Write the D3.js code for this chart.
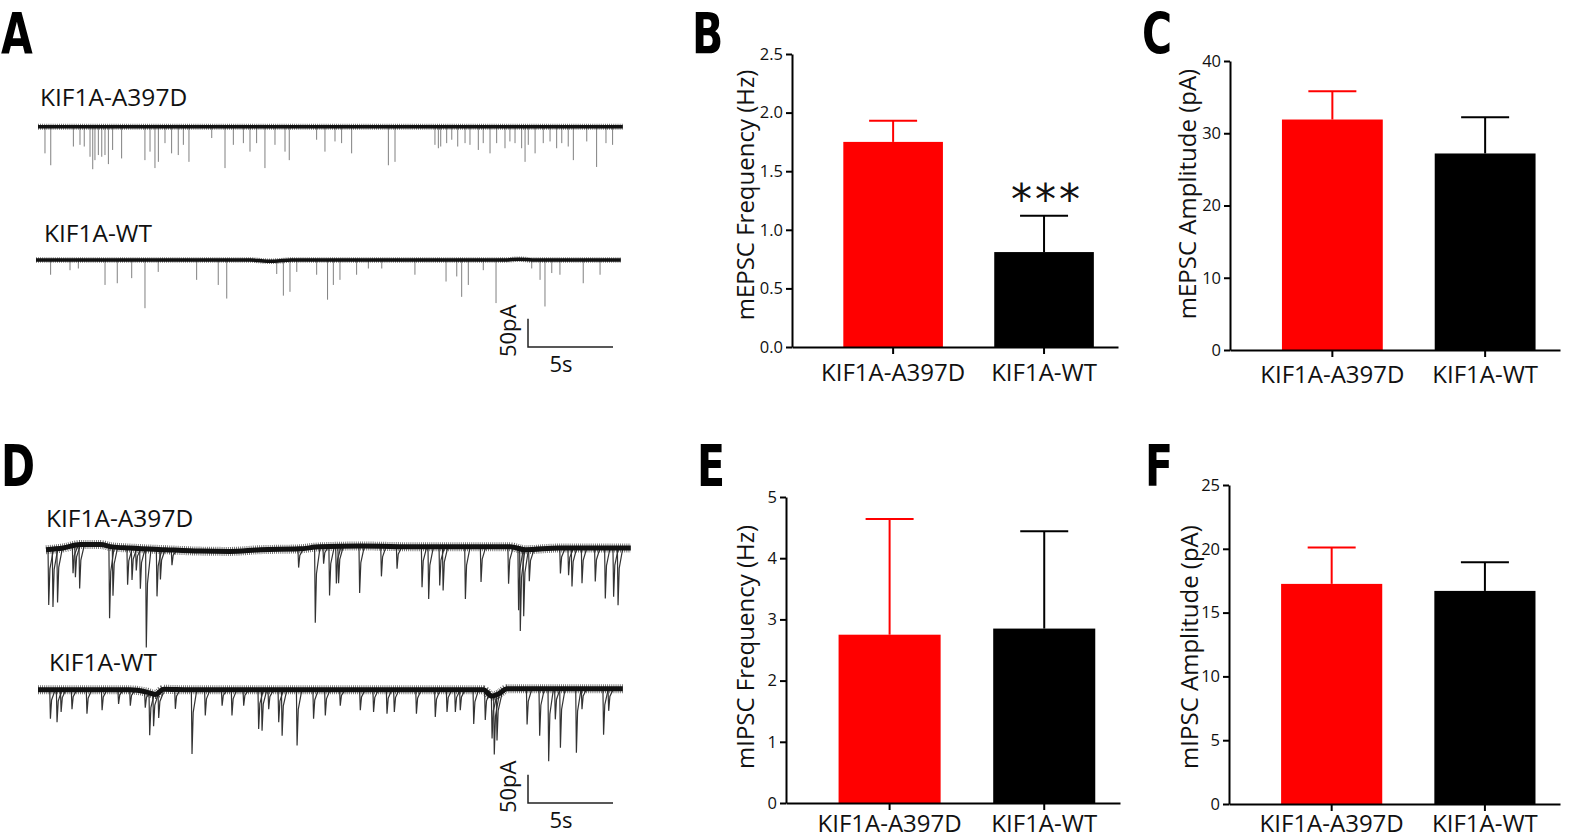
<!DOCTYPE html>
<html lang="en">
<head>
<meta charset="UTF-8">
<title>KIF1A mEPSC / mIPSC</title>
<script src="https://d3js.org/d3.v7.min.js"></script>
<style>
    body { margin: 0; background: #fff; }
    svg { display: block; font-family: "Open Sans", sans-serif; }
    .axis path, .axis line { stroke: #000; stroke-width: 2; }
    .axis text { fill: #111; font-family: "Open Sans", sans-serif; }
    .panel-letter { font-family: "DejaVu Sans", sans-serif; font-weight: 700; font-size: 57px; fill: #000; }
</style>
</head>
<body>
<div id="chart"></div>
<script>
// ---- data ----
const categories = ["KIF1A-A397D", "KIF1A-WT"];

// B: mEPSC frequency (Hz), mean and SEM
const mepscFreq = [1.75, 0.81];
const mepscFreqSem = [0.18, 0.31];
// C: mEPSC amplitude (pA)
const mepscAmp = [31.9, 27.2];
const mepscAmpSem = [3.9, 5.0];
// E: mIPSC frequency (Hz)
const mipscFreq = [2.75, 2.85];
const mipscFreqSem = [1.89, 1.59];
// F: mIPSC amplitude (pA)
const mipscAmp = [17.25, 16.7];
const mipscAmpSem = [2.85, 2.25];

const ticksB = [0, 0.5, 1.0, 1.5, 2.0, 2.5];
const ticksC = [0, 10, 20, 30, 40];
const ticksE = [0, 1, 2, 3, 4, 5];
const ticksF = [0, 5, 10, 15, 20, 25];

// example recordings: events as [time s, amplitude pA]
const traceDuration = 34.4;
const mepscA397D = [[0.41,47],[0.75,68],[2.08,35],[2.47,32],[2.72,35],[3.06,53],[3.22,75],[3.35,59],[3.55,50],
    [3.75,53],[3.94,50],[4.14,66],[4.39,41],[4.92,56],[6.29,59],[6.59,44],[6.88,73],[7.08,62],[7.47,29],
    [7.86,47],[8.25,50],[8.55,32],[8.88,62],[10.22,20],[11.0,73],[11.49,32],[12.08,29],[12.47,44],[12.86,29],
    [13.35,73],[13.94,32],[14.53,44],[14.78,59],[16.39,23],[16.88,44],[17.47,26],[17.86,29],[18.45,47],
    [20.61,68],[21.0,62],[23.35,32],[23.55,38],[23.69,35],[24.04,29],[24.34,23],[24.69,35],[25.12,29],
    [25.41,32],[25.9,41],[26.19,29],[26.59,47],[26.98,29],[27.47,38],[27.76,26],[28.06,29],[28.45,38],
    [28.65,62],[28.84,32],[29.24,47],[29.72,29],[30.12,26],[30.51,38],[30.81,29],[31.19,35],[31.49,59],
    [32.28,26],[32.86,71],[33.41,29],[33.8,32]];
const mepscWT = [[0.86,26],[2.0,18],[2.49,15],[4.06,44],[4.78,41],[5.63,32],[6.41,85],[7.19,21],[9.45,35],
    [10.72,44],[11.22,68],[14.16,23],[14.55,62],[14.94,56],[15.34,21],[16.51,26],[17.15,70],[17.49,44],
    [17.88,35],[18.86,26],[19.55,15],[20.34,15],[22.29,26],[24.12,38],[24.75,29],[25.04,65],[25.43,44],
    [26.31,18],[27.06,76],[29.16,15],[29.65,35],[29.94,82],[30.34,23],[30.82,26],[32.19,41],[33.18,26]];
const mipscA397D = [[0.14,98],[0.39,102],[0.66,95],[1.57,48],[1.71,56],[1.96,77],[3.72,127],[3.92,86],
    [4.78,65],[5.04,56],[5.29,39],[5.53,71],[5.88,174],[6.51,83],[6.71,53],[7.39,27],[14.84,33],[15.82,133],
    [16.31,30],[16.66,86],[17.06,65],[17.19,65],[18.43,83],[19.71,53],[20.63,39],[22.1,71],[22.49,92],
    [23.14,68],[23.34,77],[24.65,92],[25.57,62],[27.19,65],[27.78,109],[27.88,145],[28.08,118],[28.41,56],
    [30.24,45],[30.72,48],[30.92,68],[31.51,62],[32.29,59],[32.88,89],[33.37,86],[33.63,101]];
const mipscWT = [[0.71,51],[1.1,57],[1.34,39],[1.98,34],[2.86,42],[3.75,36],[4.72,25],[5.41,28],[6.29,28],
    [6.55,75],[6.78,57],[7.08,45],[8.06,34],[9.04,113],[9.82,45],[10.81,28],[11.39,45],[12.08,28],[12.96,69],
    [13.16,72],[13.55,34],[14.14,57],[14.34,81],[15.22,98],[16.19,51],[16.88,45],[17.76,28],[18.94,36],
    [19.72,39],[20.51,42],[20.94,39],[22.24,42],[23.35,48],[24.04,39],[24.53,39],[24.82,36],[25.61,60],
    [26.29,51],[26.69,75],[26.82,104],[26.98,81],[28.75,63],[29.49,83],[30.02,128],[30.41,54],[30.71,104],
    [31.65,113],[31.98,36],[33.25,81],[33.55,39]];

// slow baseline drift, [time s, offset pA]
const driftMepscA397D = [[0,0],[34.4,0]];
const driftMepscWT = [[0,0],[12.6,0],[13.6,-2],[14.0,-2],[15.0,0],[27.6,0],[28.4,1.5],[29.2,0],[34.4,0]];
const driftMipscA397D = [[0,-3],[1.0,0],[2.0,6],[3.2,6],[3.9,2],[4.9,0],[7.0,-3],[9.1,-5.5],[10.8,-6],
    [12.6,-3],[14.9,-1.5],[16.1,2],[18.5,3.5],[22,2],[27.3,2],[28.2,-3],[30.2,0],[34.4,0]];
const driftMipscWT = [[0,2],[5.4,2],[6.4,-2],[6.9,-6],[7.4,3],[8.9,2],[26.2,2],[26.7,-9],[27.1,-5],
    [27.6,4],[34.4,4]];

// scale bars
const scaleBarTime = 5;     // s
const scaleBarCurrent = 50; // pA

// ---- layout ----
const W = 1594, H = 840;
const PX_PER_S = 17, PX_PER_PA = 0.567;
const barColors = ["#ff0000", "#000000"];

const svg = d3.select("#chart").append("svg")
    .attr("width", W).attr("height", H)
    .attr("viewBox", `0 0 ${W} ${H}`);
svg.append("rect").attr("width", W).attr("height", H).attr("fill", "#fff");

// panel letters
[["A", 1, 54], ["B", 692, 54], ["C", 1142, 54], ["D", 1, 486], ["E", 697, 486], ["F", 1145, 486]]
    .forEach(([t, lx, ly]) => {
        svg.append("text").attr("class", "panel-letter")
            .attr("transform", `translate(${lx},${ly}) scale(0.72,1)`)
            .text(t);
    });

// ---- bar charts ----
const barPanels = [
    {values: mepscFreq, errors: mepscFreqSem, ticks: ticksB, fmt: ".1f", title: "mEPSC Frequency (Hz)",
     x0: 792, x1: 1118, yTop: 54, yBottom: 347, titleX: 744, titleY: 195, labelPad: 10, stars: "***"},
    {values: mepscAmp, errors: mepscAmpSem, ticks: ticksC, fmt: "d", title: "mEPSC Amplitude (pA)",
     x0: 1230, x1: 1560, yTop: 61, yBottom: 350, titleX: 1186, titleY: 194, labelPad: 9},
    {values: mipscFreq, errors: mipscFreqSem, ticks: ticksE, fmt: "d", title: "mIPSC Frequency (Hz)",
     x0: 786, x1: 1120, yTop: 497, yBottom: 803, titleX: 744, titleY: 647, labelPad: 5},
    {values: mipscAmp, errors: mipscAmpSem, ticks: ticksF, fmt: "d", title: "mIPSC Amplitude (pA)",
     x0: 1229, x1: 1560, yTop: 485, yBottom: 804, titleX: 1188, titleY: 647, labelPad: 4}
];

barPanels.forEach(p => {
    const g = svg.append("g");
    const x = d3.scaleBand().domain(categories).range([p.x0, p.x1])
        .paddingInner(0.34).paddingOuter(0.25).align(0.68);
    const y = d3.scaleLinear().domain([0, p.ticks[p.ticks.length - 1]]).range([p.yBottom, p.yTop]);

    g.selectAll(".bar").data(categories).enter().append("rect")
        .attr("x", c => x(c))
        .attr("width", x.bandwidth())
        .attr("y", (c, i) => y(p.values[i]))
        .attr("height", (c, i) => p.yBottom - y(p.values[i]))
        .attr("fill", (c, i) => barColors[i]);

    // error bars (upper only)
    const capHalf = 24;
    categories.forEach((c, i) => {
        const cx = x(c) + x.bandwidth() / 2;
        const top = y(p.values[i] + p.errors[i]);
        g.append("line").attr("x1", cx).attr("x2", cx)
            .attr("y1", y(p.values[i])).attr("y2", top)
            .attr("stroke", barColors[i]).attr("stroke-width", 2);
        g.append("line").attr("x1", cx - capHalf).attr("x2", cx + capHalf)
            .attr("y1", top).attr("y2", top)
            .attr("stroke", barColors[i]).attr("stroke-width", 2);
    });

    const ya = g.append("g").attr("class", "axis")
        .attr("transform", `translate(${p.x0},0)`)
        .call(d3.axisLeft(y).tickValues(p.ticks).tickFormat(d3.format(p.fmt))
            .tickSize(6).tickSizeOuter(0).tickPadding(3));
    ya.selectAll("text").attr("font-size", 16.5);

    const xa = g.append("g").attr("class", "axis")
        .attr("transform", `translate(0,${p.yBottom})`)
        .call(d3.axisBottom(x).tickSize(7).tickSizeOuter(0).tickPadding(p.labelPad));
    xa.selectAll("text").attr("font-size", 24);

    g.append("text")
        .attr("transform", `translate(${p.titleX},${p.titleY}) rotate(-90)`)
        .attr("text-anchor", "middle")
        .attr("dominant-baseline", "central")
        .attr("font-size", 24)
        .attr("fill", "#111")
        .text(p.title);

    if (p.stars) {
        const i = 1;
        const cx = x(categories[i]) + x.bandwidth() / 2;
        g.append("text")
            .attr("x", cx + 3)
            .attr("y", y(p.values[i] + p.errors[i]) - 2)
            .attr("text-anchor", "middle")
            .attr("font-family", "DejaVu Sans")
            .attr("font-size", 42)
            .attr("letter-spacing", 3)
            .attr("fill", "#111")
            .text(p.stars);
    }
});

// ---- example traces ----
const traces = [
    {label: "KIF1A-A397D", events: mepscA397D, drift: driftMepscA397D, xStart: 38, base: 126.7,
     labelX: 40, labelY: 106, band: 3.5, fuzz: 6, kind: "fast"},
    {label: "KIF1A-WT", events: mepscWT, drift: driftMepscWT, xStart: 36, base: 260,
     labelX: 44, labelY: 242, band: 3.5, fuzz: 5.5, kind: "fast"},
    {label: "KIF1A-A397D", events: mipscA397D, drift: driftMipscA397D, xStart: 46, base: 548,
     labelX: 46, labelY: 527, band: 5, fuzz: 9, kind: "slow"},
    {label: "KIF1A-WT", events: mipscWT, drift: driftMipscWT, xStart: 38, base: 691,
     labelX: 49, labelY: 671, band: 5, fuzz: 9, kind: "slow"}
];

traces.forEach(tr => {
    const g = svg.append("g");
    const x = d3.scaleLinear().domain([0, traceDuration])
        .range([tr.xStart, tr.xStart + traceDuration * PX_PER_S]);
    const y = d3.scaleLinear().domain([0, -100])
        .range([tr.base, tr.base + 100 * PX_PER_PA]);
    const baseAt = d3.scaleLinear()
        .domain(tr.drift.map(d => d[0])).range(tr.drift.map(d => d[1]));

    const line = d3.line().x(d => x(d[0])).y(d => y(d[1]));
    const smooth = d3.line().curve(d3.curveMonotoneX).x(d => x(d[0])).y(d => y(d[1]));

    if (tr.kind === "fast") {
        g.selectAll(".ev").data(tr.events).enter().append("line")
            .attr("x1", d => x(d[0])).attr("x2", d => x(d[0]))
            .attr("y1", d => y(baseAt(d[0])))
            .attr("y2", d => y(baseAt(d[0]) - d[1]))
            .attr("stroke", "#808080").attr("stroke-width", 1);
    } else {
        g.selectAll(".ev").data(tr.events).enter().append("path")
            .attr("d", d => {
                const b = baseAt(d[0]);
                return line([[d[0] - 0.02, b], [d[0] + 0.02, b - d[1]],
                             [d[0] + 0.09, b - d[1] * 0.35], [d[0] + 0.3, b]]);
            })
            .attr("fill", "none")
            .attr("stroke", "#333").attr("stroke-width", 1.2);
    }

    // recording noise band: solid core plus a combed fringe
    g.append("path").datum(tr.drift)
        .attr("d", smooth)
        .attr("fill", "none")
        .attr("stroke", "#222")
        .attr("stroke-width", tr.fuzz)
        .attr("stroke-dasharray", "0.8,1.3")
        .attr("opacity", 0.75);
    g.append("path").datum(tr.drift)
        .attr("d", smooth)
        .attr("fill", "none")
        .attr("stroke", "#111")
        .attr("stroke-width", tr.band)
        .attr("stroke-linejoin", "round");

    svg.append("text")
        .attr("x", tr.labelX).attr("y", tr.labelY)
        .attr("font-size", 24.5)
        .attr("fill", "#111")
        .text(tr.label);
});

// scale bars (one per recording pair)
[{cornerX: 528, cornerY: 347, textY: 372}, {cornerX: 528, cornerY: 803, textY: 828}].forEach(sb => {
    const len = d3.scaleLinear().domain([0, 1]).range([0, PX_PER_S]);
    const amp = d3.scaleLinear().domain([0, 1]).range([0, PX_PER_PA]);
    const wx = len(scaleBarTime), hy = amp(scaleBarCurrent);
    svg.append("path")
        .attr("d", `M${sb.cornerX},${sb.cornerY - hy}V${sb.cornerY}H${sb.cornerX + wx}`)
        .attr("fill", "none").attr("stroke", "#222").attr("stroke-width", 1.5);
    svg.append("text")
        .attr("transform", `translate(${sb.cornerX - 12},${sb.cornerY - hy / 2 - 2}) rotate(-90)`)
        .attr("text-anchor", "middle")
        .attr("font-size", 22).attr("fill", "#111")
        .text(scaleBarCurrent + "pA");
    svg.append("text")
        .attr("x", sb.cornerX + 33).attr("y", sb.textY)
        .attr("text-anchor", "middle")
        .attr("font-size", 22).attr("fill", "#111")
        .text(scaleBarTime + "s");
});
</script>
</body>
</html>
